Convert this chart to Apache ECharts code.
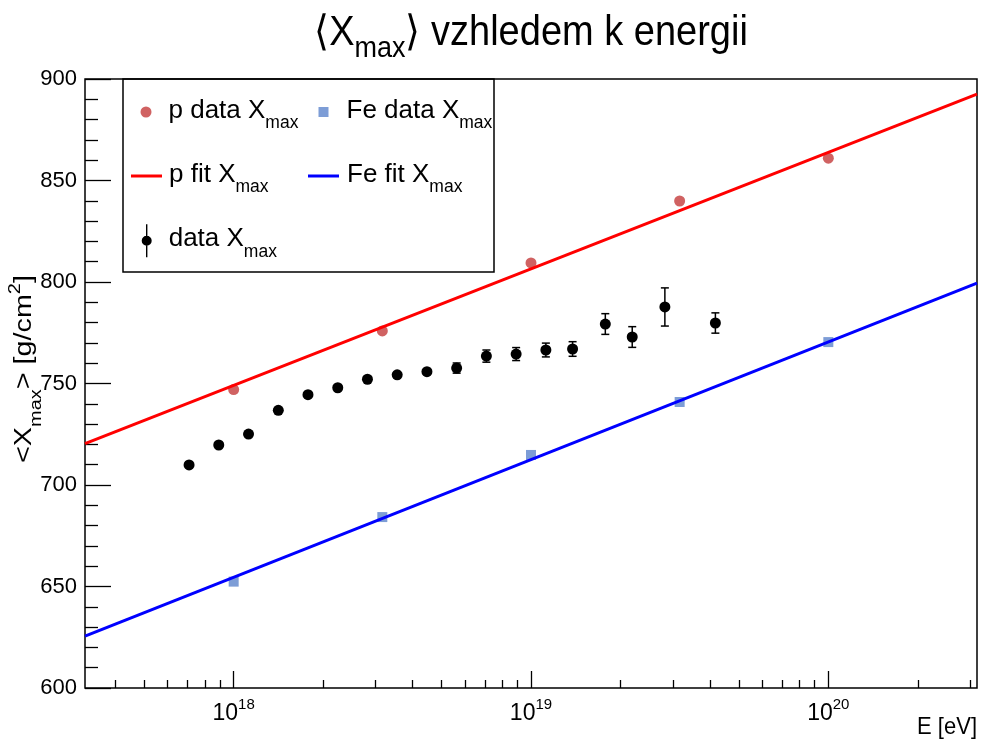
<!DOCTYPE html>
<html>
<head>
<meta charset="utf-8">
<script src="https://cdn.jsdelivr.net/npm/echarts@6/dist/echarts.min.js"></script>
<style>html,body{margin:0;padding:0;background:#fff}#c{width:982px;height:742px}</style>
</head>
<body>
<div id="c"></div>
<script>
// ---- data ----
const dataE   = [7.08e17, 8.91e17, 1.122e18, 1.413e18, 1.778e18, 2.239e18, 2.818e18, 3.548e18, 4.467e18, 5.623e18, 7.079e18, 8.913e18, 1.122e19, 1.38e19, 1.778e19, 2.19e19, 2.82e19, 4.17e19];
const dataX   = [709.9, 719.7, 725.1, 736.8, 744.5, 747.9, 752.1, 754.3, 755.8, 757.6, 763.5, 764.5, 766.5, 767.0, 779.3, 772.9, 787.7, 779.8];
const dataErr = [0.5, 0.5, 0.5, 0.5, 0.6, 0.7, 0.8, 1.0, 1.2, 2.5, 3.0, 3.2, 3.4, 3.6, 5.1, 5.1, 9.4, 5.0];
const simE    = [1e18, 3.162e18, 1e19, 3.162e19, 1e20];
const pData   = [747.0, 775.9, 809.4, 839.9, 861.0];
const feData  = [652.4, 684.2, 714.8, 740.9, 770.4];
const fitE    = [3.1623e17, 3.1623e20];
const pFit    = [720.4, 892.6];
const feFit   = [625.6, 799.4];
const xMajorTicks = [1e18, 1e19, 1e20];
const yMin = 600, yMax = 900, yStep = 50;

const FONT = '"Liberation Sans", Arial, Helvetica, sans-serif';
const xMin = Math.pow(10, 17.5), xMax = Math.pow(10, 20.5);
const xMinorTicks = [];
for (let d = 17; d <= 20; d++) for (let k = 2; k <= 9; k++) {
  const v = k * Math.pow(10, d);
  if (v > xMin && v < xMax) xMinorTicks.push(v);
}

const zip = (a, b) => a.map((v, i) => [v, b[i]]);

const legRich = {
  a: {fontSize: 26, fontFamily: FONT, color: '#000', verticalAlign: 'top'},
  s: {fontSize: 17.5, fontFamily: FONT, color: '#000', verticalAlign: 'top', padding: [17, 0, 0, 0]}
};
function mkLegend(name, label, left, top, icon, w, h, padLeft) {
  return {
    show: true, selectedMode: false, padding: 0, left: left, top: top,
    itemWidth: w, itemHeight: h, icon: icon, itemGap: 0,
    data: [{name: name}],
    formatter: () => '{a|' + label + '}{s|max}',
    textStyle: {padding: [6, 0, 0, padLeft], rich: legRich}
  };
}

const chart = echarts.init(document.getElementById('c'), null, {renderer: 'canvas'});
const axisLab = {fontSize: 22, fontFamily: FONT, color: '#000'};

chart.setOption({
  animation: false,
  backgroundColor: '#fff',
  grid: {left: 85, right: 5, top: 79, bottom: 54, show: true, borderColor: '#000', borderWidth: 1.5, backgroundColor: 'transparent'},
  xAxis: [
    {
      type: 'log', logBase: 10, min: xMin, max: xMax, position: 'bottom',
      axisLine: {show: false},
      splitLine: {show: false},
      axisTick: {show: true, inside: true, length: 17, customValues: xMajorTicks, lineStyle: {color: '#000', width: 1.3}},
      axisLabel: {
        show: true, margin: 9, customValues: xMajorTicks,
        formatter: v => '{b|10}{s|' + Math.round(Math.log10(v)) + '}',
        rich: {
          b: {fontSize: 23, fontFamily: FONT, color: '#000', verticalAlign: 'top', padding: [5, 0, 0, 0]},
          s: {fontSize: 15, fontFamily: FONT, color: '#000', verticalAlign: 'top'}
        }
      }
    },
    {
      type: 'log', logBase: 10, min: xMin, max: xMax, position: 'bottom',
      axisLine: {show: false}, splitLine: {show: false},
      axisTick: {show: true, inside: true, length: 8, customValues: xMinorTicks, lineStyle: {color: '#000', width: 1.3}},
      axisLabel: {show: false}
    }
  ],
  yAxis: {
    type: 'value', min: yMin, max: yMax, interval: yStep,
    axisLine: {show: false}, splitLine: {show: false},
    axisTick: {show: true, inside: true, length: 26, lineStyle: {color: '#000', width: 1.3}},
    minorTick: {show: true, splitNumber: 5, length: 13, lineStyle: {color: '#000', width: 1.3}},
    axisLabel: Object.assign({margin: 8}, axisLab)
  },
  legend: [
    mkLegend('p data Xmax', 'p data X', 140.5, 97.5, 'circle', 11, 11, 12),
    mkLegend('Fe data Xmax', 'Fe data X', 318.5, 97.5, 'rect', 10, 10, 13),
    mkLegend('p fit Xmax', 'p fit X', 131, 161.5, 'rect', 31, 3, 2),
    mkLegend('Fe fit Xmax', 'Fe fit X', 308, 161.5, 'rect', 31, 3, 3),
    mkLegend('data Xmax', 'data X', 141.7, 224.2,
      'path://M4.3,0 L5.7,0 L5.7,33 L4.3,33 Z M0,16.5 A5,5 0 1,1 10,16.5 A5,5 0 1,1 0,16.5 Z', 10, 33, 12)
  ],
  graphic: [
    {
      type: 'rect', z: 50, silent: true,
      shape: {x: 123, y: 79, width: 371, height: 193},
      style: {fill: 'none', stroke: '#000', lineWidth: 1.5}
    },
    {
      type: 'text', z: 50, x: 531, y: 13, scaleY: 1.1,
      style: {
        text: '{a|⟨X}{s|max}{a|⟩ vzhledem k energii}',
        align: 'center', verticalAlign: 'top',
        rich: {
          a: {fontSize: 38, fontFamily: FONT, fill: '#000', verticalAlign: 'top'},
          s: {fontSize: 27, fontFamily: FONT, fill: '#000', verticalAlign: 'top', padding: [19, 0, 0, 0]}
        }
      }
    },
    {
      type: 'text', z: 50, x: 26, y: 369, rotation: Math.PI / 2, scaleX: 1.25,
      style: {
        text: '{a|<X}{s|max}{a|> [g/cm}{u|2}{a|]}',
        align: 'center', verticalAlign: 'middle',
        rich: {
          a: {fontSize: 23, fontFamily: FONT, fill: '#000', verticalAlign: 'top', padding: [6, 0, 0, 0]},
          s: {fontSize: 16, fontFamily: FONT, fill: '#000', verticalAlign: 'top', padding: [21, 0, 0, 0]},
          u: {fontSize: 16, fontFamily: FONT, fill: '#000', verticalAlign: 'top'}
        }
      }
    },
    {
      type: 'text', z: 50, x: 977, y: 727, scaleY: 1.08,
      style: {text: 'E [eV]', align: 'right', verticalAlign: 'middle', fontSize: 22, fontFamily: FONT, fill: '#000'}
    }
  ],
  series: [
    {
      name: 'p data Xmax', type: 'scatter', xAxisIndex: 0,
      data: zip(simE, pData), symbol: 'circle', symbolSize: 11,
      itemStyle: {color: '#d06262', opacity: 1}
    },
    {
      name: 'Fe data Xmax', type: 'scatter', xAxisIndex: 0,
      data: zip(simE, feData), symbol: 'rect', symbolSize: 10,
      itemStyle: {color: '#7d9dd6', opacity: 1}
    },
    {
      name: 'p fit Xmax', type: 'line', xAxisIndex: 0,
      data: zip(fitE, pFit), showSymbol: false, symbol: 'none',
      lineStyle: {color: '#ff0000', width: 3}, itemStyle: {color: '#ff0000'}
    },
    {
      name: 'Fe fit Xmax', type: 'line', xAxisIndex: 0,
      data: zip(fitE, feFit), showSymbol: false, symbol: 'none',
      lineStyle: {color: '#0000ff', width: 3}, itemStyle: {color: '#0000ff'}
    },
    {
      name: 'data Xmax err', type: 'custom', xAxisIndex: 0,
      data: dataE.map((e, i) => [e, dataX[i], dataErr[i]]),
      encode: {x: 0, y: 1},
      renderItem: function (params, api) {
        const x = api.value(0), y = api.value(1), er = api.value(2);
        const top = api.coord([x, y + er]);
        const bot = api.coord([x, y - er]);
        const st = {stroke: '#000', lineWidth: 1.5};
        return {
          type: 'group',
          children: [
            {type: 'line', shape: {x1: top[0], y1: top[1], x2: bot[0], y2: bot[1]}, style: st},
            {type: 'line', shape: {x1: top[0] - 4, y1: top[1], x2: top[0] + 4, y2: top[1]}, style: st},
            {type: 'line', shape: {x1: bot[0] - 4, y1: bot[1], x2: bot[0] + 4, y2: bot[1]}, style: st}
          ]
        };
      }
    },
    {
      name: 'data Xmax', type: 'scatter', xAxisIndex: 0,
      data: zip(dataE, dataX), symbol: 'circle', symbolSize: 11,
      itemStyle: {color: '#000', opacity: 1}
    }
  ]
});
</script>
</body>
</html>
